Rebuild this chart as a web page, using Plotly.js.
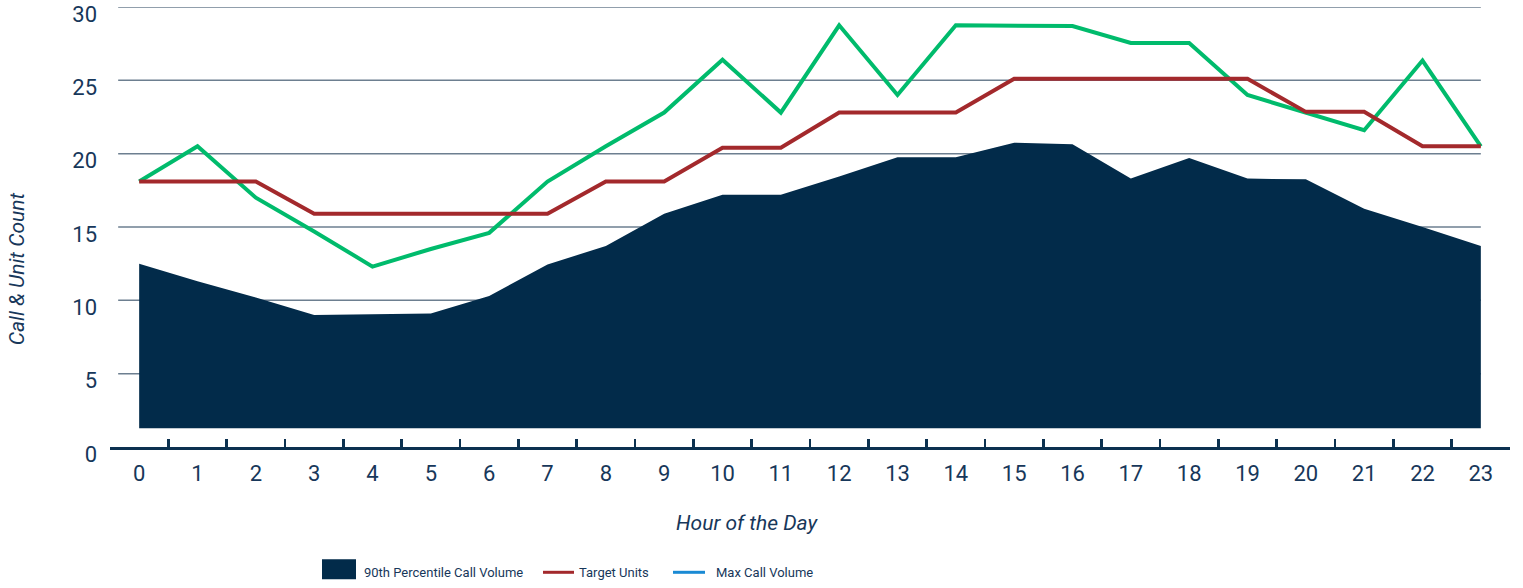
<!DOCTYPE html>
<html>
<head>
<meta charset="utf-8">
<script src="https://cdn.plot.ly/plotly-3.0.1.min.js"></script>
<style>html,body{margin:0;padding:0;background:#fff;}#chart{width:1523px;height:588px;}</style>
</head>
<body>
<div id="chart"></div>
<script>
const hours = ["0","1","2","3","4","5","6","7","8","9","10","11","12","13","14","15","16","17","18","19","20","21","22","23"];
const percentile90 = [12.5,11.3,10.2,9.0,9.05,9.1,10.3,12.45,13.7,15.9,17.2,17.2,18.45,19.75,19.75,20.75,20.65,18.3,19.7,18.3,18.25,16.25,15.0,13.7];
const targetUnits = [18.1,18.1,18.1,15.9,15.9,15.9,15.9,15.9,18.1,18.1,20.4,20.4,22.8,22.8,22.8,25.1,25.1,25.1,25.1,25.1,22.85,22.85,20.5,20.5];
const maxCallVolume = [18.1,20.5,17.0,14.7,12.3,13.5,14.6,18.1,20.5,22.8,26.4,22.8,28.75,24.0,28.75,28.7,28.7,27.55,27.55,24.0,22.8,21.6,26.35,20.5];
const areaBase = 1.27;
const yTicks = [0,5,10,15,20,25,30];
const gridLevels = [5,10,15,20,25,30];

const NAVY = '#022b4a';
const TEXT = '#17375a';
const RED = '#a3292c';
const GREEN = '#00bb6c';
const BLUE = '#1a8ad4';
const FONT = '"Roboto", "DejaVu Sans", sans-serif';

const traces = [
  {x: hours, y: hours.map(() => areaBase), type: 'scatter', mode: 'lines', line: {width: 0, color: NAVY}, hoverinfo: 'skip', showlegend: false},
  {x: hours, y: percentile90, type: 'scatter', mode: 'lines', name: '90th Percentile Call Volume', fill: 'tonexty', fillcolor: NAVY, line: {width: 0, color: NAVY}, showlegend: false},
  {x: hours, y: maxCallVolume, type: 'scatter', mode: 'lines', name: 'Max Call Volume', line: {width: 4, color: GREEN}, showlegend: false},
  {x: hours, y: targetUnits, type: 'scatter', mode: 'lines', name: 'Target Units', line: {width: 4, color: RED}, showlegend: false}
];

function px(x){return (x-110)/1400;}
function py(y){return (446.7-y)/440;}

const shapes = gridLevels.map(v => ({type: 'line', xref: 'x', yref: 'y', x0: -0.36, x1: 23.0, y0: v, y1: v, line: {color: '#6d7f90', width: 1.5}, layer: 'below'}));
// legend symbols
shapes.push({type: 'rect', xref: 'paper', yref: 'paper', x0: px(322), x1: px(356), y0: py(579), y1: py(559), fillcolor: NAVY, line: {width: 0}});
shapes.push({type: 'line', xref: 'paper', yref: 'paper', x0: px(543), x1: px(574), y0: py(572), y1: py(572), line: {color: RED, width: 3}});
shapes.push({type: 'line', xref: 'paper', yref: 'paper', x0: px(673), x1: px(705), y0: py(572), y1: py(572), line: {color: BLUE, width: 3}});

const LEG = {family: FONT, size: 13, color: TEXT};
const annotations = [
  {text: '90th Percentile Call Volume', x: px(362), y: py(572), xref: 'paper', yref: 'paper', xanchor: 'left', yanchor: 'middle', showarrow: false, font: LEG},
  {text: 'Target Units', x: px(577), y: py(572), xref: 'paper', yref: 'paper', xanchor: 'left', yanchor: 'middle', showarrow: false, font: LEG},
  {text: 'Max Call Volume', x: px(714), y: py(572), xref: 'paper', yref: 'paper', xanchor: 'left', yanchor: 'middle', showarrow: false, font: LEG},
  {text: '<i>Hour of the Day</i>', x: px(747), y: py(523), xref: 'paper', yref: 'paper', xanchor: 'center', yanchor: 'middle', showarrow: false, font: {family: FONT, size: 21, color: TEXT}},
  {text: '<i>Call & Unit Count</i>', x: px(17), y: py(268), xref: 'paper', yref: 'paper', xanchor: 'center', yanchor: 'middle', textangle: -90, showarrow: false, font: {family: FONT, size: 21, color: TEXT}}
];

const layout = {
  width: 1523, height: 588,
  margin: {l: 110, r: 13, t: 6.7, b: 141.3, pad: 0},
  paper_bgcolor: '#ffffff', plot_bgcolor: '#ffffff',
  showlegend: false,
  font: {family: FONT, color: TEXT},
  xaxis: {
    type: 'category', categoryarray: hours, range: [-0.5, 23.5],
    tickson: 'boundaries', ticks: 'inside', ticklen: 8, tickwidth: 2.5, tickcolor: '#0c3150',
    showline: true, linecolor: '#0c3150', linewidth: 2.5,
    showgrid: false, zeroline: false,
    tickfont: {family: FONT, size: 22, color: TEXT}, ticklabelstandoff: 5, fixedrange: true
  },
  yaxis: {
    range: [0, 30], tickvals: yTicks, ticktext: yTicks.map(String),
    showgrid: false, zeroline: false, showline: false, ticks: '',
    tickfont: {family: FONT, size: 22, color: TEXT}, ticklabelshift: 7, ticklabelstandoff: 12, fixedrange: true
  },
  shapes: shapes,
  annotations: annotations
};

Plotly.newPlot('chart', traces, layout, {displayModeBar: false, staticPlot: true});
</script>
</body>
</html>
